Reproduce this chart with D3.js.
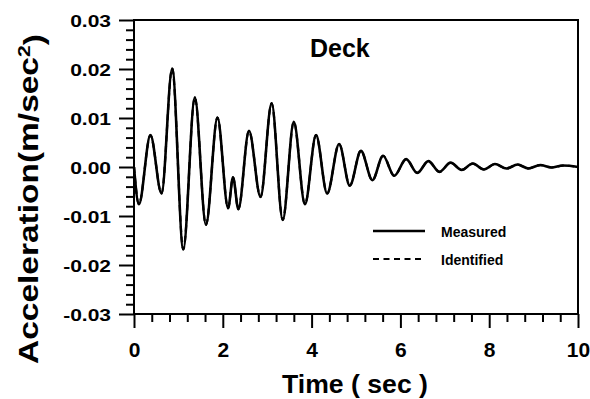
<!DOCTYPE html>
<html>
<head>
<meta charset="utf-8">
<script src="https://cdn.jsdelivr.net/npm/d3@7"></script>
<style>
  html, body { margin: 0; padding: 0; background: #fff; }
  svg { display: block; }
  text { font-family: "Liberation Sans", Arial, Helvetica, sans-serif; font-weight: bold; fill: #000; }
</style>
</head>
<body>
<script>
// ---- data ----
const timeSec = [0, 0.11, 0.37, 0.62, 0.86, 1.11, 1.37, 1.62, 1.88, 2.12, 2.23, 2.35, 2.59, 2.85, 3.10, 3.35, 3.60, 3.85, 4.10, 4.35, 4.62, 4.86, 5.11, 5.37, 5.61, 5.86, 6.13, 6.38, 6.63, 6.88, 7.13, 7.38, 7.63, 7.88, 8.13, 8.39, 8.64, 8.88, 9.15, 9.40, 9.66, 10.0];
const measured = [0, -0.0076, 0.0065, -0.0054, 0.0201, -0.0168, 0.0142, -0.0118, 0.0101, -0.0084, -0.0021, -0.0086, 0.0074, -0.0061, 0.0130, -0.0108, 0.0092, -0.0076, 0.0065, -0.0054, 0.0047, -0.0038, 0.0033, -0.0027, 0.0023, -0.0018, 0.0016, -0.0012, 0.0012, -0.0010, 0.0009, -0.0006, 0.0007, -0.0005, 0.0006, -0.0003, 0.0005, -0.0003, 0.0004, -0.0001, 0.0003, 0.0000];
const identified = [0, -0.0076, 0.0065, -0.0054, 0.0201, -0.0168, 0.0142, -0.0118, 0.0101, -0.0084, -0.0021, -0.0086, 0.0074, -0.0061, 0.0130, -0.0108, 0.0092, -0.0076, 0.0065, -0.0054, 0.0047, -0.0038, 0.0033, -0.0027, 0.0023, -0.0018, 0.0016, -0.0012, 0.0012, -0.0010, 0.0009, -0.0006, 0.0007, -0.0005, 0.0006, -0.0003, 0.0005, -0.0003, 0.0004, -0.0001, 0.0003, 0.0000];
const xTicks = [0, 2, 4, 6, 8, 10];
const xTickLabels = ["0", "2", "4", "6", "8", "10"];
const yTicks = [-0.03, -0.02, -0.01, 0.00, 0.01, 0.02, 0.03];
const yTickLabels = ["-0.03", "-0.02", "-0.01", "0.00", "0.01", "0.02", "0.03"];
const seriesNames = ["Measured", "Identified"];
const chartTitle = "Deck";

// ---- layout ----
const W = 590, H = 399;
const L = 134, R = 578, T = 20, B = 314;

const svg = d3.select("body").append("svg").attr("width", W).attr("height", H);

const x = d3.scaleLinear().domain([0, 10]).range([L, R]);
const y = d3.scaleLinear().domain([-0.03, 0.03]).range([B, T]);

const xMinor = d3.range(0, 10.0001, 0.4).filter(v => xTicks.every(t => Math.abs(t - v) > 1e-6));
const yMinor = d3.range(-0.03, 0.03001, 0.002).filter(v => yTicks.every(t => Math.abs(t - v) > 1e-7));

// minor ticks
svg.append("g").attr("transform", `translate(0,${B})`)
  .call(d3.axisBottom(x).tickValues(xMinor).tickSize(8).tickSizeOuter(0).tickFormat(""))
  .call(g => g.select(".domain").remove())
  .selectAll("line").attr("stroke", "#000").attr("stroke-width", 2);
svg.append("g").attr("transform", `translate(${L},0)`)
  .call(d3.axisLeft(y).tickValues(yMinor).tickSize(8).tickSizeOuter(0).tickFormat(""))
  .call(g => g.select(".domain").remove())
  .selectAll("line").attr("stroke", "#000").attr("stroke-width", 2);

// major x axis
const gx = svg.append("g").attr("transform", `translate(0,${B})`)
  .call(d3.axisBottom(x).tickValues(xTicks).tickSize(14).tickSizeOuter(0)
    .tickFormat((d, i) => xTickLabels[i]));
gx.select(".domain").remove();
gx.selectAll("line").attr("stroke", "#000").attr("stroke-width", 2);
gx.selectAll("text").attr("y", 43).attr("dy", null)
  .style("font-size", "21px").style("font-family", '"Liberation Sans", Arial, sans-serif').style("font-weight", "bold");

// major y axis
const gy = svg.append("g").attr("transform", `translate(${L},0)`)
  .call(d3.axisLeft(y).tickValues(yTicks).tickSize(15).tickSizeOuter(0)
    .tickFormat((d, i) => yTickLabels[i]));
gy.select(".domain").remove();
gy.selectAll("line").attr("stroke", "#000").attr("stroke-width", 2);
gy.selectAll("text").attr("x", -23).attr("dy", "0.36em")
  .attr("transform", "scale(1,0.8)")
  .style("font-size", "21px").style("font-family", '"Liberation Sans", Arial, sans-serif').style("font-weight", "bold");

// frame
svg.append("rect").attr("x", L).attr("y", T).attr("width", R - L).attr("height", B - T)
  .attr("fill", "none").attr("stroke", "#000").attr("stroke-width", 2);

// series
const line = d3.line().x((d, i) => x(timeSec[i])).y(d => y(d)).curve(d3.curveMonotoneX);
svg.append("path").datum(measured).attr("d", line)
  .attr("fill", "none").attr("stroke", "#000").attr("stroke-width", 2.6).attr("stroke-linejoin", "round");
svg.append("path").datum(identified).attr("d", line)
  .attr("fill", "none").attr("stroke", "#000").attr("stroke-width", 2.2).attr("stroke-dasharray", "6,4.5");

// title
svg.append("text").attr("x", 310).attr("y", 57).style("font-size", "25px").text(chartTitle);

// legend
svg.append("line").attr("x1", 373).attr("x2", 425).attr("y1", 231).attr("y2", 231)
  .attr("stroke", "#000").attr("stroke-width", 2.4);
svg.append("line").attr("x1", 373).attr("x2", 425).attr("y1", 259).attr("y2", 259)
  .attr("stroke", "#000").attr("stroke-width", 2).attr("stroke-dasharray", "6,4.5");
svg.append("text").attr("x", 441).attr("y", 236.5).style("font-size", "14px").text(seriesNames[0]);
svg.append("text").attr("x", 441).attr("y", 264.5).style("font-size", "14px").text(seriesNames[1]);

// axis titles
svg.append("text").attr("x", 355).attr("y", 393).attr("text-anchor", "middle")
  .style("font-size", "25px").attr("textLength", 146).attr("lengthAdjust", "spacingAndGlyphs")
  .text("Time ( sec )");

const yt = svg.append("text").attr("transform", "translate(38,364) rotate(-90) scale(1.24,1)")
  .style("font-size", "27px");
yt.append("tspan").text("Acceleration(m/sec");
yt.append("tspan").attr("dy", "-0.45em").style("font-size", "17px").text("2");
yt.append("tspan").attr("dy", "0.45em").text(")");
</script>
</body>
</html>
